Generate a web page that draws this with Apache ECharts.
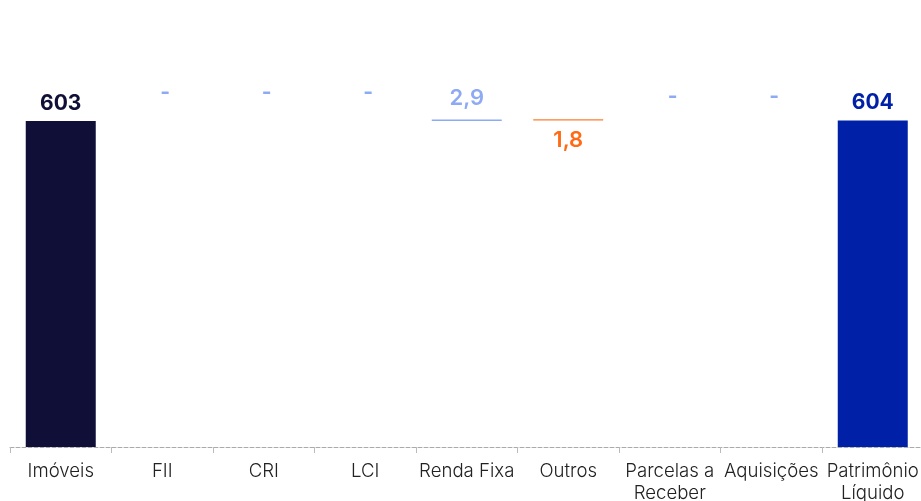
<!DOCTYPE html>
<html><head><meta charset="utf-8">
<script src="https://cdn.jsdelivr.net/npm/echarts@6/dist/echarts.min.js"></script>
<style>html,body{margin:0;padding:0;background:#fff}#c{width:921px;height:501px}</style>
</head><body><div id="c"></div>
<script>
const categories = ['Imóveis','FII','CRI','LCI','Renda Fixa','Outros','Parcelas a\nReceber','Aquisições','Patrimônio\nLíquido'];
const deltas = [603, 0, 0, 0, 2.9, -1.8, 0, 0, 604];
const kinds = ['total','step','step','step','step','step','step','step','total'];
const labels = ['603','-','-','-','2,9','1,8','-','-','604'];

const colTotalStart = '#0f0f38', colTotalEnd = '#0020a8', colUp = '#8eaaf5', colDown = '#ff6a13';

const base = [], vis = [];
let cum = 0;
let afterDown = false;
deltas.forEach((d, i) => {
  if (kinds[i] === 'total') {
    base.push(0);
    cum = d;
    const c = i === 0 ? colTotalStart : colTotalEnd;
    vis.push({value: d, itemStyle: {color: c},
      label: {show: true, position: 'top', distance: 7, formatter: labels[i], color: c, fontSize: 21, fontWeight: 'bold'}});
  } else if (d === 0) {
    base.push(cum);
    vis.push({value: 0, itemStyle: {color: colUp},
      label: {show: true, position: 'top', formatter: labels[i], color: colUp, fontSize: 21, fontWeight: 'bold', offset: [3, afterDown ? -8 : -13]}});
  } else if (d > 0) {
    base.push(cum);
    cum += d;
    vis.push({value: d, itemStyle: {color: colUp},
      label: {show: true, position: 'top', distance: 10, formatter: labels[i], color: colUp, fontSize: 22, fontWeight: 600}});
  } else {
    cum += d;
    afterDown = true;
    base.push(cum);
    vis.push({value: -d, itemStyle: {color: colDown, borderColor: colDown, borderWidth: 0.3},
      label: {show: true, position: 'bottom', distance: 9, formatter: labels[i], color: colDown, fontSize: 22, fontWeight: 600}});
  }
});

const chart = echarts.init(document.getElementById('c'), null, {renderer: 'canvas'});
chart.setOption({
  animation: false,
  textStyle: {fontFamily: 'Inter'},
  grid: {left: 10, width: 913.5, top: 68.6, bottom: 54, containLabel: false, outerBoundsMode: 'none'},
  xAxis: {
    type: 'category', data: categories,
    axisLine: {show: true, lineStyle: {color: '#aaaaaa', type: 'dashed', width: 1}},
    axisTick: {show: true, length: 6, lineStyle: {color: '#bbbbbb'}},
    axisLabel: {color: '#222222', fontSize: 18.6, fontWeight: 300, fontFamily: 'Inter', lineHeight: 22, margin: 13, interval: 0}
  },
  yAxis: {type: 'value', min: 0, max: 700, show: false, splitLine: {show: false}},
  series: [
    {type: 'bar', stack: 'w', data: base, itemStyle: {color: 'transparent'}, barWidth: 70, silent: true},
    {type: 'bar', stack: 'w', data: vis, barWidth: 70, label: {fontFamily: 'Inter'}}
  ]
});
</script></body></html>
